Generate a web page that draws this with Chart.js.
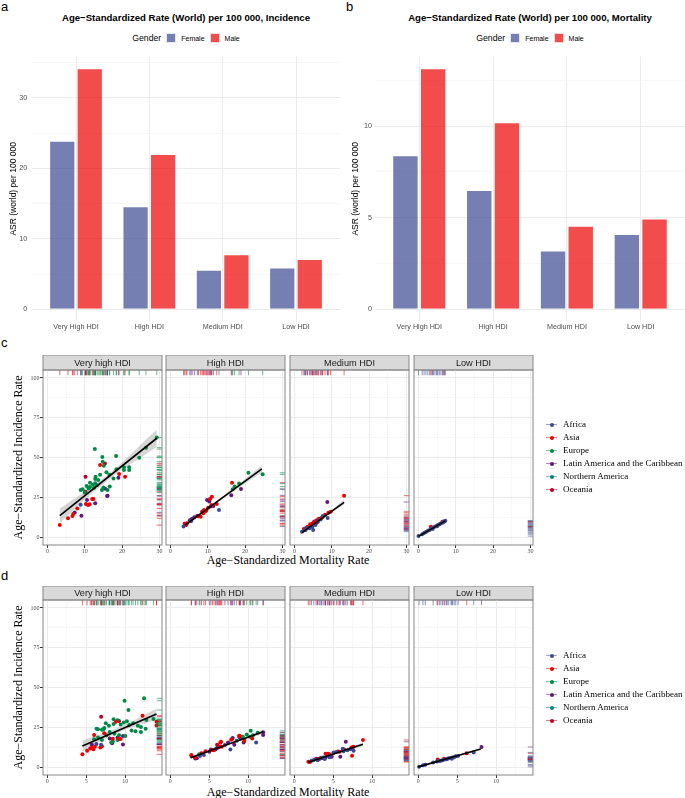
<!DOCTYPE html>
<html>
<head>
<meta charset="utf-8">
<title>ASR by HDI</title>
<script src="https://cdn.jsdelivr.net/npm/chart.js@4.4.1/dist/chart.umd.min.js"></script>
<style>
  body { margin: 0; background: #fff; width: 685px; height: 798px; position: relative; overflow: hidden; font-family: "Liberation Sans", Arial, sans-serif; }
  canvas { position: absolute; }
  .tag { position: absolute; font-size: 13px; line-height: 13px; color: #000; }
  .title { position: absolute; text-align: center; font-weight: bold; font-size: 9.6px; line-height: 12px; color: #000; white-space: nowrap; }
  .gender { position: absolute; display: flex; justify-content: center; align-items: center; height: 12px; white-space: nowrap; }
  .gender b { font-weight: normal; font-size: 8.7px; color: #000; margin-right: 5px; }
  .gender span { font-size: 7px; color: #000; margin-right: 5px; }
  .gender span:last-child { margin-right: 0; }
  .gender i { display: inline-block; width: 10px; height: 10px; margin-right: 5px; box-sizing: border-box; border: 0.5px solid rgba(255,255,255,0.8); }
  .xtitle { position: absolute; left: 43px; width: 490px; text-align: center; font: 12px "Liberation Serif", "Times New Roman", serif; line-height: 14px; color: #000; }
  .legrow { position: absolute; left: 546px; height: 12px; line-height: 12px; font: 9px "Liberation Serif", "Times New Roman", serif; color: #000; white-space: nowrap; }
  .legrow .key { display: inline-block; position: relative; width: 11px; height: 1px; vertical-align: middle; margin-right: 6px; }
  .legrow .key i { position: absolute; left: 3.5px; top: -1.5px; width: 4px; height: 4px; border-radius: 50%; }
</style>
</head>
<body>
<div class="tag" style="left:1px;top:0">a</div>
<div class="tag" style="left:346px;top:0">b</div>
<div class="tag" style="left:1px;top:336px">c</div>
<div class="tag" style="left:1px;top:569px">d</div>

<div class="title" style="left:32px;width:308px;top:12px">Age−Standardized Rate (World) per 100 000, Incidence</div>
<div class="title" style="left:375px;width:310px;top:12px">Age−Standardized Rate (World) per 100 000, Mortality</div>
<div class="gender" style="left:32px;width:308px;top:32px"><b>Gender</b><i style="background:rgba(59,73,146,0.7)"></i><span>Female</span><i style="background:rgba(238,0,0,0.7)"></i><span>Male</span></div>
<div class="gender" style="left:375px;width:310px;top:32px"><b>Gender</b><i style="background:rgba(59,73,146,0.7)"></i><span>Female</span><i style="background:rgba(238,0,0,0.7)"></i><span>Male</span></div>

<div class="xtitle" style="top:553px">Age−Standardized Mortality Rate</div>
<div class="xtitle" style="top:785px">Age−Standardized Mortality Rate</div>

<script>
// bar panels (a, b)
const hdiLevels = ['Very High HDI', 'High HDI', 'Medium HDI', 'Low HDI'];
const incidenceFemale = [23.9, 14.6, 5.6, 5.9];
const incidenceMale = [34.2, 22.0, 7.8, 7.1];
const mortalityFemale = [8.4, 6.5, 3.2, 4.1];
const mortalityMale = [13.15, 10.2, 4.55, 4.95];
const incTicks = [0, 10, 20, 30];
const incMinor = [5, 15, 25, 35];
const morTicks = [0, 5, 10];
const morMinor = [2.5, 7.5, 12.5];

// facet panels (c, d): [mortality, incidence, region index]
const facetGroups = ['Very high HDI', 'High HDI', 'Medium HDI', 'Low HDI'];
const regions = ['Africa', 'Asia', 'Europe', 'Latin America and the Caribbean', 'Northern America', 'Oceania'];
const regionColors = ['#3B4992', '#EE0000', '#008B45', '#631879', '#008280', '#BB0021'];

const cVeryHigh = [
  [29.3,62.5,2],[26.4,56.2,2],[24.6,49.9,2],[12.7,55.3,2],[18.4,50.9,2],[14.7,50.3,2],[14.8,47.4,2],[15.1,44.8,2],
  [20.5,43.8,2],[21.9,43.8,2],[21.9,42.1,2],[20.5,42.1,2],[18.5,42.6,2],[15.8,40.7,2],[16.6,39.2,2],[14.1,39.2,2],
  [12.9,37.9,2],[13.6,35.9,2],[12.8,36.5,2],[11.4,34.2,2],[12.2,33.0,2],[10.5,32.1,2],[9.4,30.0,2],[8.9,29.6,2],
  [11.4,31.5,2],[12.5,31.0,2],[14.6,29.6,2],[16.7,31.7,2],[16.1,29.6,2],[15.0,31.2,2],[11.0,30.5,2],[10.0,28.0,2],
  [13.3,32.5,2],[17.7,36.8,2],
  [14.1,45.3,1],[19.2,39.6,1],[20.8,37.9,1],[10.3,20.8,1],[10.9,20.2,1],[11.3,20.6,1],[12.0,23.9,1],[6.9,14.5,1],
  [6.7,13.3,1],[8.0,18.0,1],[5.5,11.8,1],[3.3,7.5,1],[12.3,23.9,1],
  [15.4,46.3,5],[10.2,37.9,5],[10.2,28.5,5],
  [19.0,37.3,3],[15.5,30.4,3],[16.1,26.0,3],[12.8,21.2,3],[7.3,15.5,3],[9.1,13.4,3],[10.6,23.3,3],[16.0,25.8,3],
  [8.9,20.3,0],
  [12.8,33.8,4],[11.2,31.0,4]
];
const cHigh = [
  [24.7,39.4,2],[20.9,40.4,2],[18.4,33.6,2],[17.2,31.7,2],[16.7,30.0,2],
  [16.5,34.2,1],[11.1,25.4,1],[10.6,23.9,1],[12.4,20.8,1],[9.0,17.0,1],[9.3,16.2,1],[8.8,15.0,1],[9.6,16.6,1],
  [8.1,12.8,1],[4.4,8.6,1],[4.2,7.5,1],[3.8,8.3,1],[11.0,20.1,1],[7.5,13.0,1],
  [10.1,18.4,5],[8.5,16.0,5],
  [18.9,30.2,3],[16.3,26.2,3],[9.8,23.3,3],[10.4,22.3,3],[10.8,19.2,3],[6.4,12.5,3],[7.2,13.4,3],[5.8,11.5,3],
  [5.2,10.5,3],[11.5,19.5,3],
  [13.0,17.0,0],[3.5,6.6,0],[5.5,10.0,0]
];
const cMedium = [
  [13.3,26.0,1],[9.7,15.9,1],[9.1,15.2,1],[8.2,14.0,1],[6.5,11.5,1],[5.5,10.0,1],[4.8,8.5,1],[3.5,6.5,1],
  [2.5,5.0,1],[7.5,12.5,1],[4.2,8.0,1],
  [8.8,22.0,3],[5.2,9.5,3],[4.5,7.0,3],[3.0,5.5,3],[6.0,10.5,3],
  [2.0,3.4,0],[2.7,4.2,0],[3.4,5.8,0],[4.0,5.5,0],[4.8,6.3,0],[5.6,7.5,0],[6.3,9.8,0],[7.0,11.0,0],
  [7.6,13.2,0],[8.9,12.0,0],[3.0,4.5,0],[5.0,4.5,0],
  [7.2,12.0,5],[6.0,9.0,5]
];
const cLow = [
  [0.0,0.6,0],[1.0,1.8,0],[1.5,2.5,0],[2.0,3.2,0],[2.5,4.0,0],[3.0,4.5,0],[3.6,5.5,0],[4.0,6.0,0],
  [4.4,6.5,0],[4.8,7.0,0],[5.2,7.5,0],[5.6,8.0,0],[6.0,8.5,0],[6.6,9.2,0],[7.0,10.0,0],[7.2,10.3,0],
  [5.0,6.8,0],[3.8,5.0,0],[6.8,9.6,0],
  [3.3,6.5,1],[6.4,9.6,1]
];
const dVeryHigh = [
  [9.9,41.7,2],[12.4,43.2,2],[10.4,35.8,2],[12.7,29.6,2],[13.6,30.2,2],[8.5,30.0,2],[9.0,29.4,2],[9.8,28.0,2],
  [10.2,28.8,2],[7.5,27.5,2],[7.9,26.0,2],[8.5,27.0,2],[9.4,26.8,2],[10.5,26.5,2],[11.0,27.5,2],[11.6,26.0,2],
  [12.0,25.2,2],[12.6,24.0,2],[10.8,23.0,2],[11.3,22.5,2],[6.5,23.8,2],[7.0,23.5,2],[7.3,24.5,2],[8.0,22.0,2],
  [8.6,21.0,2],[9.2,20.0,2],[6.5,18.5,2],[7.6,20.0,2],[8.4,16.0,2],[9.0,17.0,2],[10.0,19.5,2],[12.0,22.0,2],
  [7.0,17.0,2],[6.0,17.5,2],[8.2,15.5,2],
  [12.2,32.3,1],[14.0,28.5,1],[14.0,26.1,1],[6.0,20.1,1],[7.3,21.2,1],[8.4,17.8,1],[9.2,17.8,1],[4.5,8.0,1],
  [5.1,10.2,1],[5.7,12.2,1],[5.9,11.2,1],[6.1,12.8,1],[6.8,12.3,1],[7.0,13.1,1],[8.8,28.5,1],[9.4,17.6,1],
  [5.5,11.6,1],
  [6.9,31.6,5],[9.2,28.9,5],
  [8.0,18.0,3],[8.3,14.9,3],[9.7,19.5,3],[9.7,14.2,3],[5.7,14.2,3],[9.0,18.5,3],
  [6.3,14.5,0],[6.9,14.0,0],
  [6.3,24.0,4],[7.2,23.8,4]
];
const dHigh = [
  [10.3,22.8,2],[9.8,20.5,2],[10.6,20.0,2],[11.2,21.5,2],[3.7,8.0,2],[8.5,16.5,2],[9.3,19.0,2],[10.2,19.0,2],
  [8.8,19.5,1],[6.5,15.9,1],[6.6,12.7,1],[5.4,10.7,1],[4.5,10.0,1],[4.0,8.6,1],[2.7,7.5,1],[2.7,7.1,1],
  [5.6,10.6,1],[6.3,12.8,1],[6.4,15.3,1],[8.9,19.7,1],[9.5,16.5,1],[7.8,17.2,1],[3.2,6.0,1],[10.5,18.0,1],
  [11.9,21.8,3],[11.9,20.1,3],[9.4,15.5,3],[8.0,18.3,3],[7.9,17.6,3],[7.4,15.5,3],[6.0,12.0,3],[5.8,11.2,3],
  [6.2,12.4,3],[5.2,11.0,3],[5.0,9.6,3],[3.4,5.6,3],[3.2,5.3,3],[9.0,18.0,3],[8.2,14.0,3],[7.0,13.8,3],
  [11.0,15.5,0],[7.7,11.1,0],[3.8,7.0,0],[4.3,7.5,0],
  [8.9,18.8,5],[6.0,14.0,5]
];
const dMedium = [
  [8.8,17.0,1],[7.4,12.4,1],[7.3,12.0,1],[7.6,12.7,1],[7.4,7.1,1],[5.1,9.2,1],[4.5,8.0,1],[4.0,8.4,1],
  [4.3,7.5,1],[1.8,3.4,1],[2.0,3.2,1],[3.0,5.0,1],[6.4,11.0,1],[5.6,9.8,1],
  [6.6,15.9,3],[5.9,6.5,3],[3.5,5.5,3],[3.2,5.0,3],[4.8,6.5,3],[2.8,5.2,3],[4.0,6.0,3],
  [7.2,11.2,0],[6.2,11.5,0],[6.3,10.0,0],[6.8,10.5,0],[5.4,9.5,0],[5.0,9.0,0],[3.7,6.0,0],[2.5,4.5,0],
  [3.0,4.2,0],[2.2,4.0,0],[4.5,6.2,0],[3.4,5.8,0],[3.9,5.0,0],[4.6,7.2,0],[7.6,10.2,0],
  [5.8,9.6,5],[4.3,8.3,5]
];
const dLow = [
  [0.1,0.2,0],[0.9,1.5,0],[1.9,2.8,0],[2.4,3.5,0],[2.9,4.0,0],[3.4,4.8,0],[3.7,5.0,0],[3.9,5.6,0],
  [4.2,5.8,0],[4.4,6.0,0],[4.6,6.2,0],[4.8,6.8,0],[5.1,6.9,0],[7.1,9.2,0],[3.1,4.2,0],[2.7,3.8,0],
  [4.3,5.2,0],[3.6,4.9,0],[0.6,1.2,0],
  [2.5,4.8,1],[3.3,5.2,1],[6.2,8.6,1],
  [8.1,12.6,3]
];

// fitted lines (start, end) and confidence band [x, lower, upper]
const cFitLines = [[[3.3,13.4],[29.3,62.1]], [[3.9,7.5],[24.5,42.8]], [[2.0,2.8],[13.3,21.8]], [[0.0,0.4],[7.2,10.2]]];
const cBands = [
  [[3.3,8.9,17.9],[16.3,35.9,39.5],[29.3,56.6,67.6]],
  [[3.9,6.0,9.0],[14.2,24.4,26.0],[24.5,40.6,45.0]],
  [[2.0,2.0,3.6],[7.6,11.8,12.8],[13.3,20.3,23.3]],
  [[0.0,0.0,0.8],[3.6,5.0,5.5],[7.2,9.7,10.7]]
];
const dFitLines = [[[4.5,13.2],[14.0,33.3]], [[2.6,5.9],[11.9,22.2]], [[1.8,3.0],[8.8,14.3]], [[0.0,0.1],[8.0,11.3]]];
const dBands = [
  [[4.5,9.7,16.7],[9.2,22.0,25.0],[14.0,29.8,36.8]],
  [[2.6,4.9,6.9],[7.2,13.6,14.6],[11.9,21.0,23.4]],
  [[1.8,2.2,3.8],[5.3,8.2,9.2],[8.8,13.1,15.5]],
  [[0.0,-0.3,0.5],[4.0,5.4,5.8],[8.0,10.7,11.9]]
];

const incRateTicks = [0, 25, 50, 75, 100];
const incRateMinor = [12.5, 37.5, 62.5, 87.5];
const cMortTicks = [0, 10, 20, 30];
const cMortMinor = [5, 15, 25];
const dMortTicks = [0, 5, 10];
const dMortMinor = [2.5, 7.5, 12.5];

Chart.defaults.font.family = '"Liberation Sans", Arial, sans-serif';
Chart.defaults.animation = false;
Chart.defaults.events = [];
const SERIF = '"Liberation Serif", "Times New Roman", serif';

function rgba(hex, a) {
  const n = parseInt(hex.slice(1), 16);
  return `rgba(${n >> 16},${(n >> 8) & 255},${n & 255},${a})`;
}

function addCanvas(left, top, w, h) {
  const cv = document.createElement('canvas');
  cv.width = w; cv.height = h;
  cv.style.left = left + 'px'; cv.style.top = top + 'px';
  cv.style.width = w + 'px'; cv.style.height = h + 'px';
  document.body.appendChild(cv);
  return cv;
}

function isMajor(c, list) {
  return c.tick && list.includes(c.tick.value);
}

// ---- bar charts ----
function barChart(left, width, axisW, labelPad, titlePad, female, male, majors, minors) {
  const mx = Math.max(...female, ...male);
  const cv = addCanvas(left, 0, width, 334);
  const yTicks = majors.concat(minors).filter(v => v <= mx * 1.05).sort((a, b) => a - b);
  new Chart(cv, {
    type: 'bar',
    data: {
      datasets: [
        { label: 'Female', data: female.map((v, i) => ({ x: i + 1, y: v })), backgroundColor: 'rgba(59,73,146,0.7)' },
        { label: 'Male', data: male.map((v, i) => ({ x: i + 1, y: v })), backgroundColor: 'rgba(238,0,0,0.7)' }
      ]
    },
    options: {
      responsive: false,
      layout: { padding: { top: 56.3, left: 0, right: 0, bottom: 0 } },
      datasets: { bar: { categoryPercentage: 0.75, barPercentage: 0.94, borderColor: 'rgba(255,255,255,0.75)', borderWidth: 0.8 } },
      plugins: { legend: { display: false }, tooltip: { enabled: false } },
      scales: {
        x: {
          type: 'linear', min: 0.4, max: 4.6, offset: false,
          afterBuildTicks: s => { s.ticks = hdiLevels.map((_, i) => ({ value: i + 1 })); },
          afterFit: s => { s.height = 12.6; s.paddingLeft = 0; s.paddingRight = 0; },
          ticks: { callback: v => hdiLevels[v - 1], color: '#4D4D4D', font: { size: 7.2 }, padding: 1.8, maxRotation: 0, autoSkip: false },
          grid: { color: '#EBEBEB', lineWidth: 1, drawTicks: false, offset: false },
          border: { display: false }
        },
        y: {
          min: -mx * 0.05, max: mx * 1.05,
          afterBuildTicks: s => { s.ticks = yTicks.map(v => ({ value: v })); },
          afterFit: s => { s.width = axisW; s.paddingTop = 0; s.paddingBottom = 0; },
          ticks: { callback: v => majors.includes(v) ? String(v) : '', color: '#4D4D4D', font: { size: 7.2 }, padding: labelPad },
          grid: { color: c => isMajor(c, majors) ? '#EBEBEB' : '#F4F4F4', lineWidth: c => isMajor(c, majors) ? 1 : 0.7, drawTicks: false },
          border: { display: false },
          title: { display: true, text: 'ASR (world) per 100 000', color: '#000', font: { size: 8.5 }, padding: { top: titlePad, bottom: 0 } }
        }
      }
    }
  });
}

barChart(0, 340, 32, 4.7, 9, incidenceFemale, incidenceMale, incTicks, incMinor);
barChart(340, 345, 35, 3, 11, mortalityFemale, mortalityMale, morTicks, morMinor);

// ---- facet panels ----
const stripPlugin = {
  id: 'strip',
  beforeDraw(chart, args, opts) {
    const { ctx, chartArea: a } = chart;
    ctx.save();
    ctx.fillStyle = '#D9D9D9';
    ctx.fillRect(a.left, a.top - opts.h, a.width, opts.h);
    ctx.strokeStyle = '#878787';
    ctx.lineWidth = 1;
    ctx.strokeRect(a.left, a.top - opts.h, a.width, opts.h);
    ctx.fillStyle = '#1A1A1A';
    ctx.font = '9.2px "Liberation Sans", Arial, sans-serif';
    ctx.textAlign = 'center';
    ctx.textBaseline = 'middle';
    ctx.fillText(opts.text, (a.left + a.right) / 2, a.top - opts.h / 2 + 0.5);
    ctx.restore();
  },
  afterDraw(chart) {
    const { ctx, chartArea: a } = chart;
    ctx.save();
    ctx.strokeStyle = '#878787';
    ctx.lineWidth = 1;
    ctx.strokeRect(a.left, a.top, a.width, a.height);
    ctx.restore();
  }
};

// marginal rugs on top and right edges
const rugPlugin = {
  id: 'rug',
  afterDatasetsDraw(chart) {
    const { ctx, chartArea: a, scales: { x, y } } = chart;
    const len = a.height * 0.03;
    ctx.save();
    ctx.lineWidth = 0.9;
    chart.data.datasets.forEach(ds => {
      if (!ds.rugColor) return;
      ctx.strokeStyle = ds.rugColor;
      ds.data.forEach(p => {
        const px = x.getPixelForValue(p.x), py = y.getPixelForValue(p.y);
        ctx.beginPath();
        ctx.moveTo(px, a.top); ctx.lineTo(px, a.top + len);
        ctx.moveTo(a.right - len, py); ctx.lineTo(a.right, py);
        ctx.stroke();
      });
    });
    ctx.restore();
  }
};

const panelLefts = [43, 166, 290, 414];
const panelW = 119;

function facetPanel(rowTop, stripH, pts, fit, band, gi, xRange, xMaj, xMin) {
  const first = gi === 0;
  const side = first ? 43 : 10;
  const cv = addCanvas(panelLefts[gi] - side, rowTop, panelW + 2 * side, stripH + 175 + 14);
  const xTicks = xMaj.concat(xMin).sort((a, b) => a - b);
  const yTicks = incRateTicks.concat(incRateMinor).sort((a, b) => a - b);

  const sets = [{
    type: 'line', data: fit.map(p => ({ x: p[0], y: p[1] })),
    borderColor: '#000', borderWidth: 1.6, pointRadius: 0, order: 0
  }];
  regions.forEach((name, r) => {
    sets.push({
      label: name,
      data: pts.filter(p => p[2] === r).map(p => ({ x: p[0], y: p[1] })),
      backgroundColor: regionColors[r], borderColor: regionColors[r], borderWidth: 0,
      pointRadius: 2, order: 1, rugColor: rgba(regionColors[r], 0.65)
    });
  });
  sets.push({ type: 'line', data: band.map(b => ({ x: b[0], y: b[2] })), borderColor: 'rgba(0,0,0,0)', borderWidth: 0, pointRadius: 0, tension: 0.4, fill: false, order: 2 });
  sets.push({ type: 'line', data: band.map(b => ({ x: b[0], y: b[1] })), borderColor: 'rgba(0,0,0,0)', borderWidth: 0, pointRadius: 0, tension: 0.4, fill: '-1', backgroundColor: 'rgba(153,153,153,0.4)', order: 2 });

  new Chart(cv, {
    type: 'scatter',
    data: { datasets: sets },
    plugins: [stripPlugin, rugPlugin],
    options: {
      responsive: false,
      layout: { padding: { top: stripH, left: 0, right: side, bottom: 0 } },
      plugins: { legend: { display: false }, tooltip: { enabled: false }, strip: { text: facetGroups[gi], h: stripH } },
      scales: {
        x: {
          type: 'linear', min: xRange[0], max: xRange[1],
          afterBuildTicks: s => { s.ticks = xTicks.map(v => ({ value: v })); },
          afterFit: s => { s.height = 14; s.paddingLeft = 0; s.paddingRight = 0; },
          ticks: { callback: v => xMaj.includes(v) ? String(v) : '', color: '#4D4D4D', font: { family: SERIF, size: 6 }, padding: 0, maxRotation: 0, autoSkip: false },
          grid: {
            color: c => isMajor(c, xMaj) ? '#EBEBEB' : '#F3F3F3',
            lineWidth: c => isMajor(c, xMaj) ? 1 : 0.7,
            tickColor: c => isMajor(c, xMaj) ? '#333333' : 'rgba(0,0,0,0)', tickLength: 3
          },
          border: { display: false }
        },
        y: {
          min: -5, max: 105,
          afterBuildTicks: s => { s.ticks = yTicks.map(v => ({ value: v })); },
          afterFit: s => { s.width = side; s.paddingTop = 0; s.paddingBottom = 0; },
          ticks: { display: first, callback: v => incRateTicks.includes(v) ? String(v) : '', color: '#4D4D4D', font: { family: SERIF, size: 6 }, padding: 0.5, autoSkip: false },
          grid: {
            color: c => isMajor(c, incRateTicks) ? '#EBEBEB' : '#F3F3F3',
            lineWidth: c => isMajor(c, incRateTicks) ? 1 : 0.7,
            tickColor: c => isMajor(c, incRateTicks) ? '#333333' : 'rgba(0,0,0,0)', tickLength: 3, drawTicks: first
          },
          border: { display: false },
          title: { display: first, text: 'Age−Standardized Incidence Rate', color: '#000', font: { family: SERIF, size: 12 }, padding: { top: 12, bottom: 0 } }
        }
      }
    }
  });
}

const cPanels = [cVeryHigh, cHigh, cMedium, cLow];
const dPanels = [dVeryHigh, dHigh, dMedium, dLow];
cPanels.forEach((pts, i) => facetPanel(355, 15, pts, cFitLines[i], cBands[i], i, [-1.2, 30.7], cMortTicks, cMortMinor));
dPanels.forEach((pts, i) => facetPanel(586, 14, pts, dFitLines[i], dBands[i], i, [-0.55, 14.7], dMortTicks, dMortMinor));

// region legends
function regionLegend(top) {
  regions.forEach((name, i) => {
    const row = document.createElement('div');
    row.className = 'legrow';
    row.style.top = (top + i * 13) + 'px';
    row.innerHTML = `<span class="key" style="background:${rgba(regionColors[i], 0.5)}"><i style="background:${regionColors[i]}"></i></span>${name}`;
    document.body.appendChild(row);
  });
}
regionLegend(419);
regionLegend(650);
</script>
</body>
</html>
